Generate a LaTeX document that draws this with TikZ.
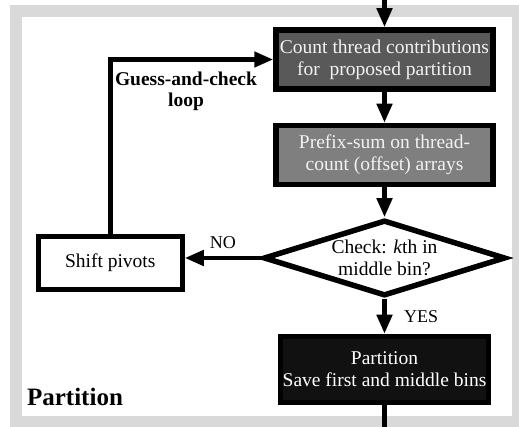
\documentclass[tikz,border=0pt]{standalone}
\usepackage{fontspec}
\setmainfont{Liberation Serif}
\usetikzlibrary{shapes.geometric, arrows.meta, positioning}
\definecolor{framegray}{RGB}{217, 217, 217}
\definecolor{countgray}{RGB}{89, 89, 89}
\definecolor{prefixgray}{RGB}{127, 127, 127}
\definecolor{partblack}{RGB}{17, 17, 17}
\definecolor{boxtext}{RGB}{242, 242, 242}

\begin{document}
\begin{tikzpicture}[
    x=1pt, y=-1pt,
    node distance=30pt,
    box/.style={draw, line width=5.5pt, minimum width=217pt, minimum height=59pt, inner sep=2pt, align=center, font=\fontsize{19.5}{22}\selectfont},
    decision/.style={diamond, draw, line width=5.5pt, aspect=3.2, inner sep=0pt, minimum width=242pt, minimum height=76pt, align=center, font=\fontsize{19.5}{22}\selectfont},
    lbl/.style={align=center, font=\fontsize{18}{20}\selectfont},
    arrow/.style={-{Triangle[length=19pt, width=15pt]}, line width=4.5pt}
]

% gray frame
\useasboundingbox (0,0) rectangle (519,427);
\fill[framegray] (10,5) rectangle (525,435);
\fill[white] (22,17) rectangle (512,416);

\node[box, fill=countgray, text=boxtext] (count) at (384.5,59.5) {Count thread contributions\\for\ \ proposed partition};
\node[box, fill=prefixgray, text=boxtext, below=31pt of count] (prefix) {Prefix-sum on thread-\\count (offset) arrays};
\node[decision, below=30pt of prefix] (check) {Check: \textit{k}th in\\middle bin?};
\node[box, fill=partblack, text=white, minimum width=208pt, minimum height=66pt, below=35pt of check] (part) {Partition\\Save first and middle bins};
\node[box, fill=white, line width=5pt, minimum width=144pt, minimum height=53pt, left=76pt of check, yshift=-5pt] (shift) {Shift pivots};

\coordinate[above=30pt of count] (entry);
\coordinate[below=25pt of part] (exit);

\node[lbl, font=\bfseries\fontsize{19.5}{21}\selectfont] (looptxt) at (186,91) {Guess-and-check\\loop};
\node[font=\bfseries\fontsize{25}{28}\selectfont] (title) at (75,397) {Partition};

\draw[arrow] (entry) -- (count);
\draw[arrow] (count) -- (prefix);
\draw[arrow] (prefix) -- (check);
\draw[arrow] (check) -- node[lbl, right=14pt] (yes) {YES} (part);
\draw[arrow] (check.west) -- node[lbl, above=4pt] (no) {NO} (check.west -| shift.east);
\draw[arrow] (shift.north) |- (count.west);
\draw[line width=4.5pt] (part) -- (exit);

\end{tikzpicture}
\end{document}
